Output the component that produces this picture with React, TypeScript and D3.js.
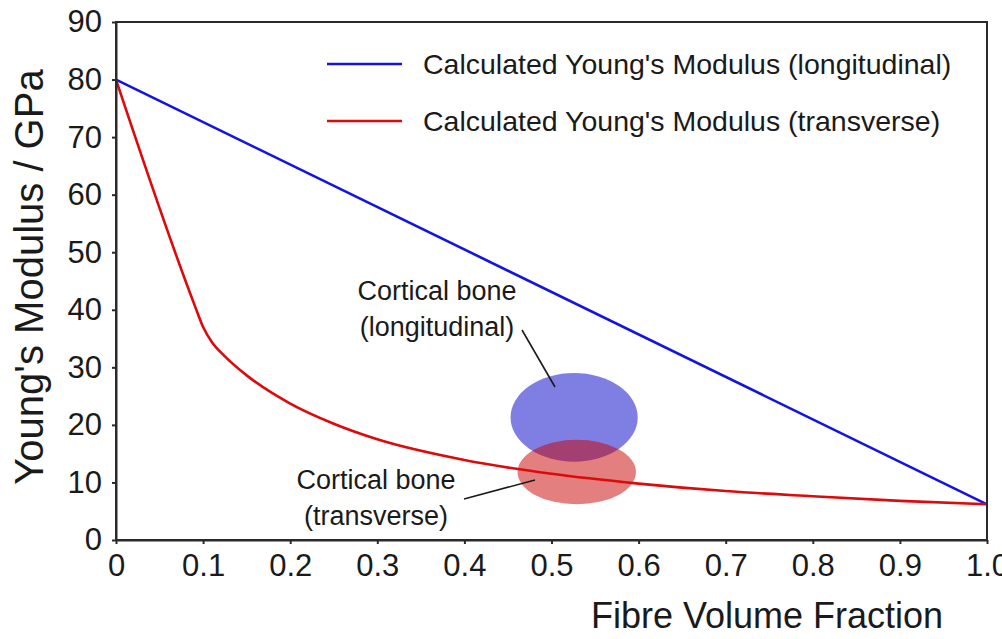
import { useEffect, useRef } from "react";
import * as d3 from "d3";

// fibre volume fraction samples and modulus values (GPa)
const longX = [0, 1];
const longE = [80, 6.2];
const transX = [0, 0.09, 0.1, 0.11, 0.125, 0.15, 0.2, 0.25, 0.3, 0.4, 0.5, 0.6, 0.7, 0.8, 0.9, 1.0];
const transE = [80, 40.9, 37.0, 34.4, 31.9, 28.6, 23.7, 20.2, 17.5, 13.9, 11.5, 9.8, 8.5, 7.6, 6.8, 6.2];

const xTicks = [0, 0.1, 0.2, 0.3, 0.4, 0.5, 0.6, 0.7, 0.8, 0.9, 1.0];
const xTickLabels = ["0", "0.1", "0.2", "0.3", "0.4", "0.5", "0.6", "0.7", "0.8", "0.9", "1.0"];
const yTicks = [0, 10, 20, 30, 40, 50, 60, 70, 80, 90];

const legendLabels = [
  "Calculated Young's Modulus (longitudinal)",
  "Calculated Young's Modulus (transverse)",
];

// cortical bone regions: centre (vf, GPa) and radii
const boneNames = ["longitudinal", "transverse"];
const boneCx = [0.526, 0.529];
const boneCy = [21.3, 11.8];
const boneRx = [0.073, 0.068];
const boneRy = [7.7, 5.6];

const W = 1002;
const H = 639;
const FONT = "'Liberation Sans', Arial, sans-serif";

export default function App() {
  const svgRef = useRef<SVGSVGElement>(null);

  useEffect(() => {
    if (!svgRef.current) return;
    const svg = d3.select(svgRef.current);
    svg.selectAll("*").remove();

    const margin = { top: 22, right: 15, bottom: 99, left: 116 };
    const width = W - margin.left - margin.right;
    const height = H - margin.top - margin.bottom;

    const x = d3.scaleLinear().domain([0, 1]).range([0, width]);
    const y = d3.scaleLinear().domain([0, 90]).range([height, 0]);

    const g = svg.append("g").attr("transform", `translate(${margin.left},${margin.top})`);

    // bone ellipses
    const ellColors = ["rgb(0,0,200)", "rgb(200,0,0)"];
    boneNames.forEach((_, i) => {
      g.append("ellipse")
        .attr("cx", x(boneCx[i]))
        .attr("cy", y(boneCy[i]))
        .attr("rx", x(boneRx[i]) - x(0))
        .attr("ry", y(0) - y(boneRy[i]))
        .attr("fill", ellColors[i])
        .attr("fill-opacity", 0.5);
    });

    // lines
    const line = d3
      .line<[number, number]>()
      .x((d) => x(d[0]))
      .y((d) => y(d[1]));

    g.append("path")
      .datum(longX.map((v, i) => [v, longE[i]] as [number, number]))
      .attr("d", line)
      .attr("fill", "none")
      .attr("stroke", "#1414e0")
      .attr("stroke-width", 2.6);

    g.append("path")
      .datum(transX.map((v, i) => [v, transE[i]] as [number, number]))
      .attr("d", line.curve(d3.curveMonotoneX))
      .attr("fill", "none")
      .attr("stroke", "#dc0a0a")
      .attr("stroke-width", 2.6);

    // frame
    g.append("rect")
      .attr("x", 0)
      .attr("y", 0)
      .attr("width", width)
      .attr("height", height)
      .attr("fill", "none")
      .attr("stroke", "#2a2a2a")
      .attr("stroke-width", 2);

    // axes
    const xAxis = g
      .append("g")
      .attr("transform", `translate(0,${height})`)
      .call(
        d3
          .axisBottom(x)
          .tickValues(xTicks)
          .tickFormat((_, i) => xTickLabels[i])
          .tickSize(4)
          .tickSizeOuter(0)
          .tickPadding(10)
      );
    const yAxis = g.append("g").call(
      d3.axisLeft(y).tickValues(yTicks).tickSize(4).tickSizeOuter(0).tickPadding(10)
    );
    [xAxis, yAxis].forEach((a) => {
      a.select(".domain").attr("stroke", "#2a2a2a").attr("stroke-width", 2);
      a.selectAll(".tick line").attr("stroke", "#2a2a2a").attr("stroke-width", 2);
      a.selectAll(".tick text")
        .attr("fill", "#1a1a1a")
        .style("font-family", FONT)
        .style("font-size", "31px");
    });
    xAxis.selectAll(".tick text").attr("dy", "0.72em");

    // axis titles
    svg.append("text")
      .attr("x", 767)
      .attr("y", 628)
      .attr("text-anchor", "middle")
      .style("font-family", FONT)
      .style("font-size", "36px")
      .attr("fill", "#1a1a1a")
      .text("Fibre Volume Fraction");

    svg.append("text")
      .attr("transform", "translate(43,277) rotate(-90)")
      .attr("text-anchor", "middle")
      .style("font-family", FONT)
      .style("font-size", "40px")
      .attr("fill", "#1a1a1a")
      .text("Young's Modulus / GPa");

    // legend
    const legColors = ["#1414e0", "#dc0a0a"];
    legendLabels.forEach((lab, i) => {
      const ly = 64 + i * 57;
      svg.append("line")
        .attr("x1", 327)
        .attr("x2", 402)
        .attr("y1", ly)
        .attr("y2", ly)
        .attr("stroke", legColors[i])
        .attr("stroke-width", 2.6);
      svg.append("text")
        .attr("x", 423)
        .attr("y", ly + 10)
        .style("font-family", FONT)
        .style("font-size", "28.5px")
        .attr("fill", "#1a1a1a")
        .text(lab);
    });

    // annotations
    const ann = [
      { lines: ["Cortical bone", "(longitudinal)"], cx: 437, y0: 300, lx: [522, 555], ly: [330, 387] },
      { lines: ["Cortical bone", "(transverse)"], cx: 376, y0: 489, lx: [464, 535], ly: [499, 480] },
    ];
    ann.forEach((a) => {
      a.lines.forEach((t, j) => {
        svg.append("text")
          .attr("x", a.cx)
          .attr("y", a.y0 + j * 36)
          .attr("text-anchor", "middle")
          .style("font-family", FONT)
          .style("font-size", "27px")
          .attr("fill", "#1a1a1a")
          .text(t);
      });
      svg.append("line")
        .attr("x1", a.lx[0])
        .attr("x2", a.lx[1])
        .attr("y1", a.ly[0])
        .attr("y2", a.ly[1])
        .attr("stroke", "#1a1a1a")
        .attr("stroke-width", 1.6);
    });
  }, []);

  return (
    <svg
      ref={svgRef}
      width={W}
      height={H}
      style={{ position: "absolute", left: 0, top: 0, background: "#fff", overflow: "visible" }}
    />
  );
}
